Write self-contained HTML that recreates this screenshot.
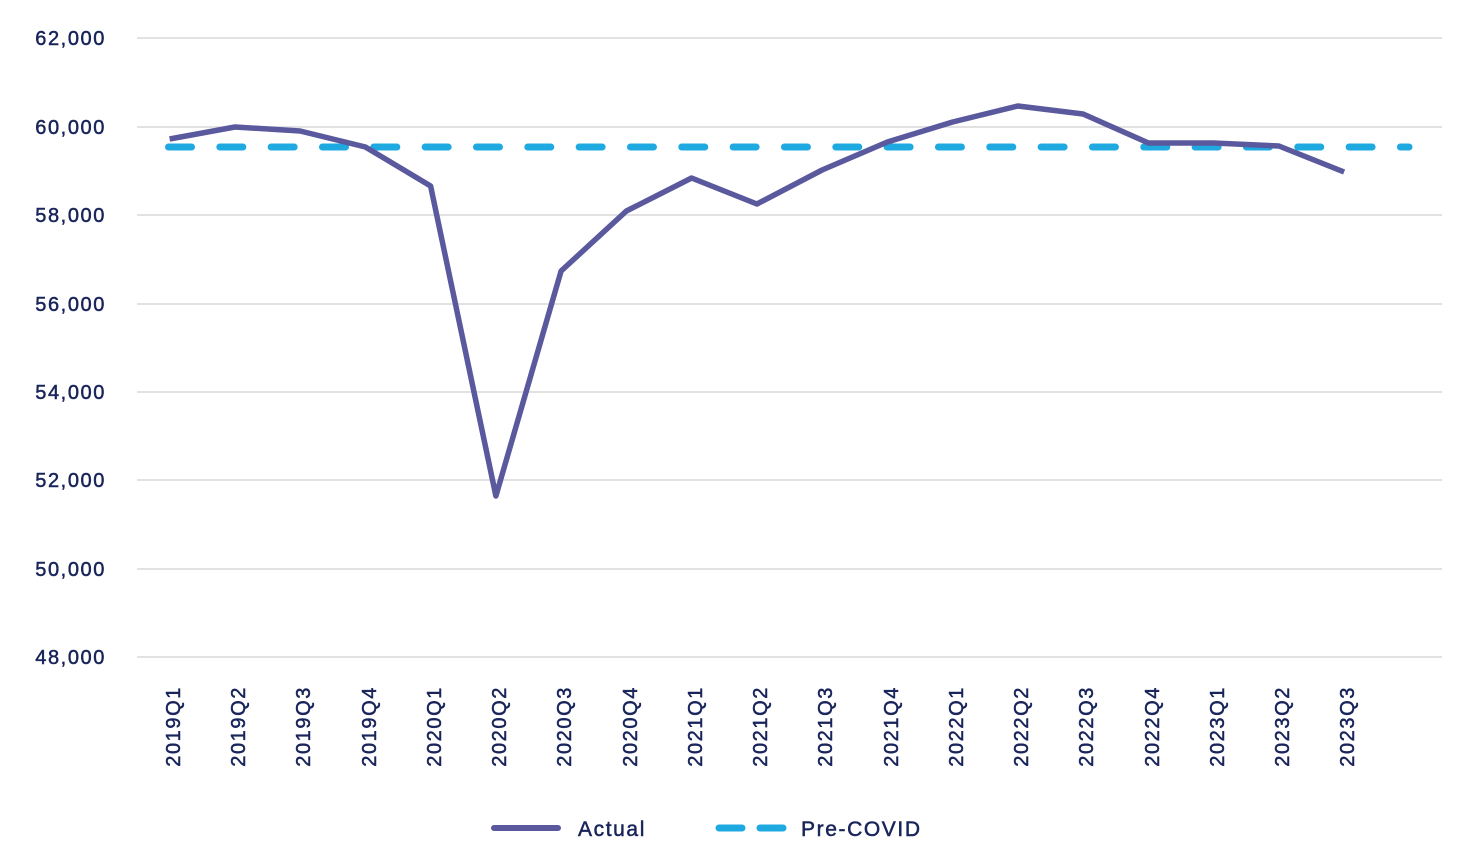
<!DOCTYPE html>
<html><head><style>body{margin:0;background:#fff}svg{display:block}text{font-family:"Liberation Sans",sans-serif;fill:#18245a;stroke:#18245a;stroke-width:0.5px;letter-spacing:1.6px}</style></head><body>
<svg width="1477" height="859" viewBox="0 0 1477 859">
<g stroke="#d9d9d9" stroke-width="1.5">
<line x1="137" x2="1442" y1="38" y2="38"/><line x1="137" x2="1442" y1="127" y2="127"/><line x1="137" x2="1442" y1="215" y2="215"/><line x1="137" x2="1442" y1="304" y2="304"/><line x1="137" x2="1442" y1="392" y2="392"/><line x1="137" x2="1442" y1="480" y2="480"/><line x1="137" x2="1442" y1="569" y2="569"/><line x1="137" x2="1442" y1="657" y2="657"/>
</g>
<g font-size="20" text-anchor="end">
<text x="106" y="45">62,000</text><text x="106" y="134">60,000</text><text x="106" y="222">58,000</text><text x="106" y="311">56,000</text><text x="106" y="399">54,000</text><text x="106" y="487">52,000</text><text x="106" y="576">50,000</text><text x="106" y="664">48,000</text>
</g>
<line x1="168.5" x2="1409" y1="147" y2="147" stroke="#1fa9e1" stroke-width="7" stroke-linecap="round" stroke-dasharray="23,28.33"/>
<polyline fill="none" stroke="#5b599e" stroke-width="5.5" stroke-linejoin="round" points="169.6,139 234.9,127 300.1,131 365.4,147 430.6,186 495.9,496 561.1,271 626.4,211 691.6,178 756.9,204 822.1,170 887.4,142 952.6,122 1017.9,106 1083.1,114 1148.4,143 1213.6,143 1278.9,146 1344.1,172"/>
<g font-size="20" text-anchor="end">
<text transform="translate(180,686) rotate(-90)">2019Q1</text><text transform="translate(245,686) rotate(-90)">2019Q2</text><text transform="translate(310,686) rotate(-90)">2019Q3</text><text transform="translate(376,686) rotate(-90)">2019Q4</text><text transform="translate(441,686) rotate(-90)">2020Q1</text><text transform="translate(506,686) rotate(-90)">2020Q2</text><text transform="translate(571,686) rotate(-90)">2020Q3</text><text transform="translate(637,686) rotate(-90)">2020Q4</text><text transform="translate(702,686) rotate(-90)">2021Q1</text><text transform="translate(767,686) rotate(-90)">2021Q2</text><text transform="translate(832,686) rotate(-90)">2021Q3</text><text transform="translate(898,686) rotate(-90)">2021Q4</text><text transform="translate(963,686) rotate(-90)">2022Q1</text><text transform="translate(1028,686) rotate(-90)">2022Q2</text><text transform="translate(1093,686) rotate(-90)">2022Q3</text><text transform="translate(1159,686) rotate(-90)">2022Q4</text><text transform="translate(1224,686) rotate(-90)">2023Q1</text><text transform="translate(1289,686) rotate(-90)">2023Q2</text><text transform="translate(1354,686) rotate(-90)">2023Q3</text>
</g>
<line x1="494" x2="558" y1="828" y2="828" stroke="#5b599e" stroke-width="6" stroke-linecap="round"/>
<text x="578" y="836" font-size="21">Actual</text>
<line x1="719" x2="783" y1="828" y2="828" stroke="#1fa9e1" stroke-width="7" stroke-linecap="round" stroke-dasharray="23,18"/>
<text x="801" y="836" font-size="21">Pre-COVID</text>
</svg>
</body></html>
